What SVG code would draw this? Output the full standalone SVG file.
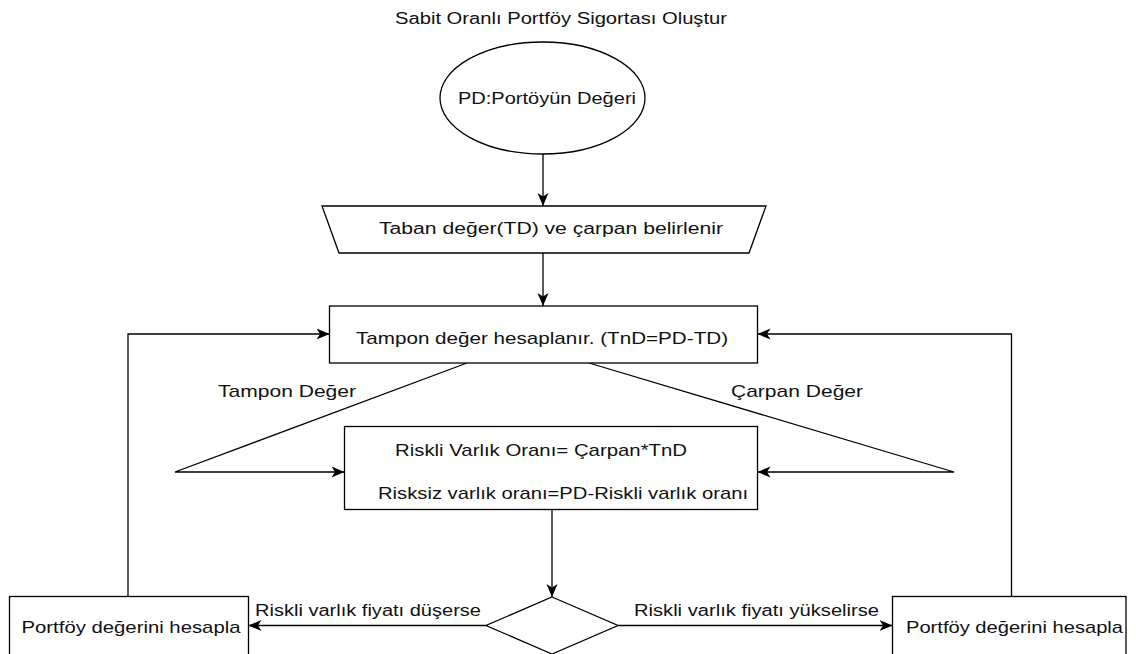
<svg xmlns="http://www.w3.org/2000/svg" width="1136" height="654" viewBox="0 0 1136 654">
<style>
.shape{fill:#fff;stroke:#000;stroke-width:1.3}
.conn{fill:none;stroke:#000;stroke-width:1.3}
text{font-family:"Liberation Sans",Arial,sans-serif;fill:#111;font-size:16px}
.t17{font-size:17px}
</style>
<defs>
<marker id="arr" markerUnits="userSpaceOnUse" markerWidth="14" markerHeight="12" refX="13" refY="5.5" orient="auto">
<path d="M0,0 L13,5.5 L0,11 L3.5,5.5 z" fill="#000"/>
</marker>
</defs>
<rect width="1136" height="654" fill="#fff"/>
<text id="title" x="395" y="24" textLength="332" lengthAdjust="spacingAndGlyphs">Sabit Oranlı Portföy Sigortası Oluştur</text>
<g id="connectors">
<line class="conn" x1="543" y1="154" x2="543" y2="206" marker-end="url(#arr)"/>
<line class="conn" x1="543" y1="253" x2="543" y2="306" marker-end="url(#arr)"/>
<polyline class="conn" points="467,363 175,472 344.5,472" marker-end="url(#arr)"/>
<polyline class="conn" points="589,363 954,472 757.5,472" marker-end="url(#arr)"/>
<line class="conn" x1="552" y1="509.5" x2="552" y2="597" marker-end="url(#arr)"/>
<line class="conn" x1="486" y1="625.5" x2="248.5" y2="625.5" marker-end="url(#arr)"/>
<line class="conn" x1="618" y1="625.5" x2="892.5" y2="625.5" marker-end="url(#arr)"/>
<polyline class="conn" points="128,596.5 128,334 329.5,334" marker-end="url(#arr)"/>
<polyline class="conn" points="1011.5,596.5 1011.5,334 757.5,334" marker-end="url(#arr)"/>
<text x="218" y="397" class="t17" textLength="138" lengthAdjust="spacingAndGlyphs">Tampon Değer</text>
<text x="731" y="397" class="t17" textLength="132" lengthAdjust="spacingAndGlyphs">Çarpan Değer</text>
<text x="255" y="616" textLength="226" lengthAdjust="spacingAndGlyphs">Riskli varlık fiyatı düşerse</text>
<text x="634" y="616" textLength="245" lengthAdjust="spacingAndGlyphs">Riskli varlık fiyatı yükselirse</text>
</g>
<g id="start">
<ellipse class="shape" cx="542.5" cy="98" rx="102.5" ry="56"/>
<text x="458" y="104" textLength="178" lengthAdjust="spacingAndGlyphs">PD:Portöyün Değeri</text>
</g>
<g id="input">
<polygon class="shape" points="322,206 766,206 749,253 339,253"/>
<text x="379" y="233.5" textLength="344" lengthAdjust="spacingAndGlyphs">Taban değer(TD) ve çarpan belirlenir</text>
</g>
<g id="buffer">
<rect class="shape" x="329.5" y="306" width="428" height="57"/>
<text x="356" y="344" class="t17" textLength="372" lengthAdjust="spacingAndGlyphs">Tampon değer hesaplanır. (TnD=PD-TD)</text>
</g>
<g id="ratio">
<rect class="shape" x="344.5" y="426.5" width="413" height="83"/>
<text x="395" y="456" class="t17" textLength="292" lengthAdjust="spacingAndGlyphs">Riskli Varlık Oranı= Çarpan*TnD</text>
<text x="378" y="498.5" class="t17" textLength="370" lengthAdjust="spacingAndGlyphs">Risksiz varlık oranı=PD-Riskli varlık oranı</text>
</g>
<g id="decision">
<polygon class="shape" points="552,597 618,625.5 552,654 486,625.5"/>
</g>
<g id="left-box">
<rect class="shape" x="9.5" y="596.5" width="239" height="62"/>
<text x="21.5" y="633" class="t17" textLength="219" lengthAdjust="spacingAndGlyphs">Portföy değerini hesapla</text>
</g>
<g id="right-box">
<rect class="shape" x="892.5" y="596.5" width="233.5" height="62"/>
<text x="906" y="633" class="t17" textLength="217" lengthAdjust="spacingAndGlyphs">Portföy değerini hesapla</text>
</g>
</svg>
